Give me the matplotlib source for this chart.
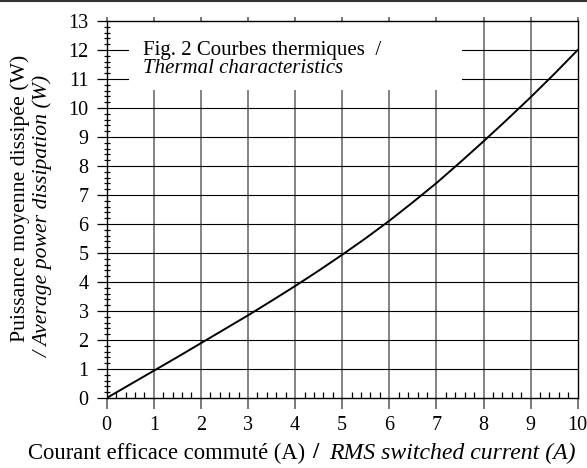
import matplotlib
matplotlib.use("Agg")
import matplotlib.pyplot as plt
from matplotlib.lines import Line2D
from matplotlib.patches import Rectangle
from matplotlib.ticker import MultipleLocator

plt.rcParams["font.family"] = ["Liberation Serif", "DejaVu Serif"]

# curve
current = [0, 0.5, 1, 1.5, 2, 2.5, 3, 3.5, 4, 4.5, 5,
           5.5, 6, 6.5, 7, 7.5, 8, 8.5, 9, 9.5, 10]
power = [0, 0.47, 0.94, 1.41, 1.89, 2.37, 2.85, 3.35, 3.86, 4.39, 4.94,
         5.51, 6.11, 6.75, 7.41, 8.12, 8.85, 9.6, 10.37, 11.17, 12.0]

x_ticks = list(range(0, 11))
y_ticks = list(range(0, 14))

fig = plt.figure(figsize=(5.87, 4.68), dpi=100)
ax = fig.add_axes([106.7 / 587, 1 - 398 / 468, 471 / 587, 377 / 468])
ax.set_xlim(0, 10)
ax.set_ylim(0, 13)
ax.set_axisbelow(True)

for xv in x_ticks[1:-1]:
    ax.axvline(xv, color="#7a7a7a", lw=1.3, zorder=0.5)
for yv in y_ticks[1:-1]:
    ax.axhline(yv, color="black", lw=0.8, zorder=0.5)

# white box behind the caption
ax.add_patch(Rectangle((0.47, 10.62), 7.07, 2.38, facecolor="white",
                       edgecolor="none", zorder=1))

ax.plot(current, power, color="black", lw=1.4, zorder=2)

ax.set_xticks(x_ticks)
ax.set_yticks(y_ticks)
ax.xaxis.set_minor_locator(MultipleLocator(0.2))
ax.yaxis.set_minor_locator(MultipleLocator(0.2))
ax.tick_params(axis="x", which="major", direction="out", length=8,
               width=1.1, color="#555555", labelsize=14.5, pad=5,
               top=True)
ax.tick_params(axis="x", which="minor", direction="in", length=4.3,
               width=0.9, color="black", top=False)
ax.tick_params(axis="y", which="major", direction="out", length=7,
               width=0.9, color="black", labelsize=14.5, pad=6)
ax.tick_params(axis="y", which="minor", direction="inout", length=4.3,
               width=0.9, color="black")
for t in ax.xaxis.get_major_ticks():
    t.tick2line.set_markersize(3)
for s in ax.spines.values():
    s.set_linewidth(1.0)
    s.set_zorder(2.5)

ax.text(0.77, 12.0, "Fig. 2 Courbes thermiques  /", fontsize=15,
        va="center", ha="left", zorder=3)
ax.text(0.77, 11.35, "Thermal characteristics", fontsize=15,
        style="italic", va="center", ha="left", zorder=3)

# axis titles (normal + italic parts)
fig.text(28 / 587, 1 - 453 / 468, "Courant efficace commuté (A)",
         fontsize=16.3, ha="left", va="center")
fig.text(315 / 587, 1 - 453 / 468, "/", fontsize=16.3, fontweight="bold",
         ha="center", va="center")
fig.text(576 / 587, 1 - 453 / 468, "RMS switched current (A)",
         fontsize=17.1, style="italic", ha="right", va="center")
fig.text(20 / 587, 1 - 342 / 468, "Puissance moyenne dissipée (W)",
         fontsize=15.7, rotation=90, ha="center", va="bottom")
fig.text(43 / 587, 1 - 357 / 468, "/ Average power dissipation (W)",
         fontsize=15.7, style="italic", rotation=90, ha="center",
         va="bottom")

fig.add_artist(Line2D([0, 1], [1 - 1 / 468, 1 - 1 / 468],
                      transform=fig.transFigure, color="#333333", lw=1.5))

fig.savefig("out.png", dpi=100)
